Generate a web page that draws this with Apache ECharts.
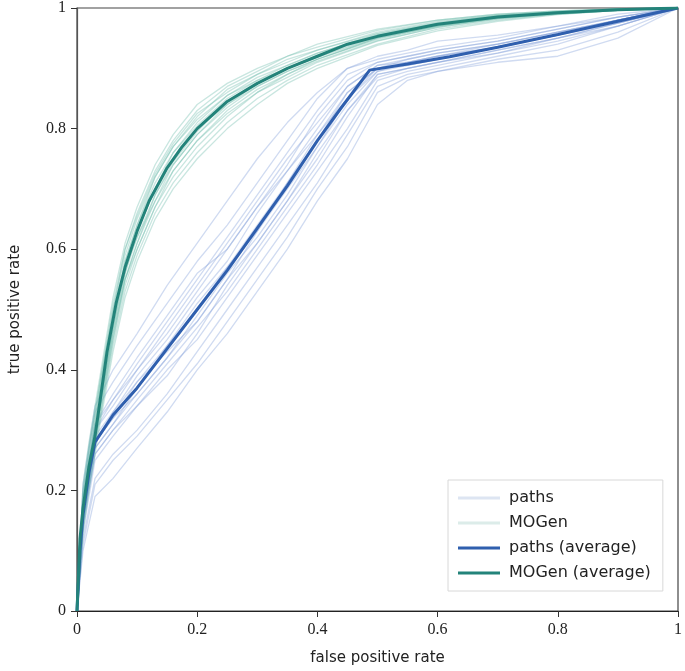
<!DOCTYPE html>
<html>
<head>
<meta charset="utf-8">
<script src="https://cdn.jsdelivr.net/npm/echarts@6/dist/echarts.min.js"></script>
<style>html,body{margin:0;padding:0;background:#fff}#c{width:685px;height:671px}</style>
</head>
<body>
<div id="c"></div>
<script>
// x-axis ticks / y-axis ticks
var xTicks = [0, 0.2, 0.4, 0.6, 0.8, 1];
var yTicks = [0, 0.2, 0.4, 0.6, 0.8, 1];

// Average curves
var pathsAvgX = [0,0.005,0.01,0.02,0.03,0.06,0.1,0.15,0.2,0.25,0.3,0.35,0.4,0.44,0.487,0.55,0.62,0.7,0.8,0.9,1];
var pathsAvgY = [0,0.10,0.16,0.23,0.28,0.325,0.37,0.435,0.50,0.565,0.635,0.705,0.78,0.835,0.897,0.907,0.919,0.935,0.956,0.978,1];

var mogenAvgX = [0,0.005,0.01,0.02,0.03,0.04,0.05,0.065,0.08,0.09,0.1,0.12,0.15,0.175,0.2,0.25,0.3,0.35,0.4,0.45,0.5,0.6,0.7,0.8,0.9,1];
var mogenAvgY = [0,0.12,0.17,0.24,0.29,0.36,0.43,0.51,0.57,0.60,0.63,0.68,0.735,0.77,0.80,0.845,0.875,0.90,0.92,0.94,0.953,0.973,0.985,0.992,0.997,1];

// Individual runs: paths
var pathsRunX = [0,0.01,0.03,0.06,0.1,0.15,0.2,0.25,0.3,0.35,0.4,0.45,0.5,0.55,0.6,0.7,0.8,0.9,1];
var pathsRun1  = [0,0.14,0.26,0.30,0.35,0.41,0.47,0.53,0.60,0.67,0.74,0.82,0.89,0.90,0.91,0.93,0.95,0.975,1];
var pathsRun2  = [0,0.18,0.30,0.35,0.41,0.48,0.55,0.62,0.69,0.76,0.83,0.89,0.91,0.92,0.93,0.945,0.965,0.985,1];
var pathsRun3  = [0,0.12,0.22,0.26,0.30,0.36,0.43,0.50,0.57,0.64,0.71,0.79,0.87,0.89,0.90,0.92,0.94,0.97,1];
var pathsRun4  = [0,0.17,0.29,0.33,0.39,0.45,0.52,0.58,0.66,0.73,0.80,0.87,0.905,0.915,0.925,0.94,0.96,0.98,1];
var pathsRun5  = [0,0.15,0.27,0.31,0.36,0.42,0.49,0.56,0.62,0.69,0.77,0.84,0.895,0.905,0.915,0.935,0.955,0.98,1];
var pathsRun6  = [0,0.20,0.33,0.38,0.44,0.51,0.58,0.64,0.71,0.78,0.85,0.90,0.915,0.925,0.935,0.95,0.97,0.985,1];
var pathsRun7  = [0,0.10,0.19,0.22,0.27,0.33,0.40,0.46,0.53,0.60,0.68,0.75,0.84,0.88,0.895,0.91,0.92,0.95,1];
var pathsRun8  = [0,0.16,0.28,0.32,0.38,0.44,0.50,0.57,0.64,0.71,0.78,0.86,0.90,0.91,0.92,0.94,0.96,0.98,1];
var pathsRun9  = [0,0.13,0.25,0.29,0.34,0.39,0.46,0.54,0.61,0.68,0.76,0.83,0.885,0.90,0.91,0.93,0.95,0.975,1];
var pathsRun10 = [0,0.19,0.31,0.36,0.42,0.49,0.56,0.60,0.67,0.74,0.82,0.88,0.91,0.92,0.93,0.945,0.965,0.985,1];
var pathsRun11 = [0,0.15,0.26,0.30,0.34,0.40,0.45,0.52,0.59,0.66,0.73,0.80,0.88,0.895,0.905,0.925,0.945,0.97,1];
var pathsRun12 = [0,0.17,0.30,0.34,0.40,0.46,0.53,0.60,0.67,0.73,0.79,0.85,0.90,0.915,0.925,0.94,0.96,0.98,1];
var pathsRun13 = [0,0.14,0.27,0.31,0.37,0.44,0.51,0.57,0.63,0.70,0.77,0.85,0.895,0.91,0.92,0.935,0.955,0.98,1];
var pathsRun14 = [0,0.16,0.28,0.33,0.38,0.43,0.48,0.55,0.63,0.71,0.79,0.86,0.90,0.905,0.915,0.935,0.955,0.975,1];
var pathsRun15 = [0,0.21,0.34,0.40,0.46,0.54,0.61,0.68,0.75,0.81,0.86,0.90,0.92,0.93,0.945,0.955,0.97,0.99,1];
var pathsRun16 = [0,0.11,0.21,0.25,0.29,0.35,0.41,0.48,0.55,0.62,0.70,0.77,0.86,0.885,0.895,0.915,0.93,0.96,1];
var pathsRun17 = [0,0.15,0.28,0.32,0.36,0.42,0.48,0.55,0.61,0.68,0.75,0.83,0.89,0.90,0.91,0.925,0.95,0.97,1];
var pathsRun18 = [0,0.18,0.31,0.35,0.40,0.47,0.54,0.61,0.68,0.75,0.81,0.87,0.905,0.91,0.92,0.935,0.955,0.98,1];
var pathsRuns = [pathsRun1,pathsRun2,pathsRun3,pathsRun4,pathsRun5,pathsRun6,pathsRun7,pathsRun8,pathsRun9,
                 pathsRun10,pathsRun11,pathsRun12,pathsRun13,pathsRun14,pathsRun15,pathsRun16,pathsRun17,pathsRun18];

// Individual runs: MOGen
var mogenRunX = [0,0.01,0.02,0.04,0.06,0.08,0.1,0.13,0.16,0.2,0.25,0.3,0.35,0.4,0.5,0.6,0.7,0.8,0.9,1];
var mogenRun1  = [0,0.15,0.22,0.34,0.45,0.54,0.60,0.67,0.72,0.77,0.82,0.86,0.885,0.91,0.945,0.968,0.982,0.99,0.996,1];
var mogenRun2  = [0,0.19,0.26,0.38,0.50,0.59,0.65,0.72,0.77,0.82,0.865,0.89,0.915,0.93,0.96,0.978,0.988,0.994,0.998,1];
var mogenRun3  = [0,0.16,0.23,0.35,0.47,0.56,0.62,0.69,0.74,0.79,0.835,0.87,0.895,0.915,0.95,0.97,0.984,0.992,0.997,1];
var mogenRun4  = [0,0.18,0.25,0.37,0.49,0.58,0.64,0.71,0.76,0.81,0.855,0.885,0.905,0.925,0.957,0.975,0.987,0.993,0.998,1];
var mogenRun5  = [0,0.14,0.21,0.33,0.44,0.53,0.59,0.66,0.71,0.76,0.81,0.85,0.88,0.905,0.94,0.965,0.98,0.99,0.996,1];
var mogenRun6  = [0,0.20,0.27,0.39,0.51,0.60,0.66,0.73,0.78,0.83,0.87,0.895,0.92,0.935,0.963,0.98,0.99,0.995,0.998,1];
var mogenRun7  = [0,0.17,0.24,0.36,0.47,0.56,0.63,0.70,0.75,0.80,0.84,0.875,0.90,0.92,0.952,0.972,0.985,0.992,0.997,1];
var mogenRun8  = [0,0.16,0.24,0.37,0.48,0.57,0.62,0.68,0.73,0.78,0.83,0.865,0.89,0.915,0.948,0.97,0.983,0.991,0.997,1];
var mogenRun9  = [0,0.18,0.25,0.35,0.47,0.58,0.64,0.72,0.77,0.815,0.855,0.88,0.905,0.925,0.955,0.974,0.986,0.993,0.998,1];
var mogenRun10 = [0,0.15,0.22,0.35,0.46,0.55,0.61,0.68,0.74,0.79,0.84,0.87,0.895,0.915,0.95,0.97,0.984,0.992,0.997,1];
var mogenRun11 = [0,0.21,0.28,0.40,0.52,0.61,0.67,0.74,0.79,0.84,0.875,0.90,0.92,0.94,0.965,0.98,0.99,0.995,0.999,1];
var mogenRun12 = [0,0.13,0.20,0.32,0.43,0.52,0.58,0.65,0.70,0.75,0.80,0.84,0.875,0.90,0.938,0.962,0.978,0.989,0.996,1];
var mogenRun13 = [0,0.17,0.25,0.38,0.49,0.57,0.63,0.70,0.76,0.805,0.85,0.88,0.90,0.922,0.955,0.972,0.985,0.993,0.997,1];
var mogenRun14 = [0,0.16,0.23,0.34,0.46,0.55,0.61,0.69,0.745,0.795,0.845,0.875,0.90,0.918,0.951,0.971,0.984,0.992,0.997,1];
var mogenRun15 = [0,0.19,0.27,0.39,0.50,0.60,0.655,0.725,0.775,0.825,0.86,0.89,0.91,0.93,0.958,0.976,0.988,0.994,0.998,1];
var mogenRun16 = [0,0.14,0.22,0.33,0.45,0.55,0.60,0.67,0.73,0.78,0.825,0.86,0.89,0.912,0.946,0.968,0.982,0.991,0.996,1];
var mogenRuns = [mogenRun1,mogenRun2,mogenRun3,mogenRun4,mogenRun5,mogenRun6,mogenRun7,mogenRun8,
                 mogenRun9,mogenRun10,mogenRun11,mogenRun12,mogenRun13,mogenRun14,mogenRun15,mogenRun16];

function zip(xs, ys){ return xs.map(function(x,i){ return [x, ys[i]]; }); }

var thinBlue = 'rgba(125,155,215,0.36)';
var thinTeal = 'rgba(105,185,170,0.36)';
var avgBlue = '#2f5fae';
var avgTeal = '#23837a';

var series = [];
pathsRuns.forEach(function(r){
  series.push({name:'paths', type:'line', data: zip(pathsRunX, r), symbol:'none', silent:true,
    lineStyle:{color:thinBlue, width:1.3}, itemStyle:{color:thinBlue}, z:1});
});
mogenRuns.forEach(function(r){
  series.push({name:'MOGen', type:'line', data: zip(mogenRunX, r), symbol:'none', silent:true,
    lineStyle:{color:thinTeal, width:1.3}, itemStyle:{color:thinTeal}, z:2});
});
series.push({name:'paths (average)', type:'line', data: zip(pathsAvgX, pathsAvgY), symbol:'none',
  lineStyle:{color:avgBlue, width:3}, itemStyle:{color:avgBlue}, z:5});
series.push({name:'MOGen (average)', type:'line', data: zip(mogenAvgX, mogenAvgY), symbol:'none',
  lineStyle:{color:avgTeal, width:3}, itemStyle:{color:avgTeal}, z:6});

var chart = echarts.init(document.getElementById('c'));
chart.setOption({
  animation:false,
  backgroundColor:'#fff',
  grid:{left:76, right:5, top:8, bottom:60, containLabel:false, show:true, borderColor:'#444', borderWidth:1.2, backgroundColor:'transparent'},
  legend:{
    data:[
      {name:'paths', icon:'rect', itemStyle:{color:'#dde5f2'}},
      {name:'MOGen', icon:'rect', itemStyle:{color:'#dcece9'}},
      {name:'paths (average)', icon:'rect', itemStyle:{color:avgBlue}},
      {name:'MOGen (average)', icon:'rect', itemStyle:{color:avgTeal}}
    ],
    orient:'vertical', left:448, top:480,
    padding:[9,12,9,10], itemGap:7, itemWidth:42, itemHeight:3,
    borderColor:'#d8d8d8', borderWidth:1, borderRadius:0, backgroundColor:'#fff',
    textStyle:{fontFamily:'DejaVu Sans', fontSize:16, color:'#222', lineHeight:18, padding:[0,0,0,4]},
    selectedMode:false
  },
  xAxis:{
    type:'value', min:0, max:1, interval:0.2,
    name:'false positive rate', nameLocation:'middle', nameGap:40,
    nameTextStyle:{fontFamily:'DejaVu Sans', fontSize:15, color:'#222'},
    axisLine:{show:true, lineStyle:{color:'#222', width:1.2}},
    axisTick:{show:true, length:6, inside:false, lineStyle:{color:'#333'}},
    axisLabel:{fontFamily:'Liberation Serif', fontSize:16, color:'#222', margin:11,
      formatter:function(v){ return xTicks.indexOf(Math.round(v*10)/10) >= 0 ? String(Math.round(v*10)/10) : ''; }},
    splitLine:{show:false}
  },
  yAxis:{
    type:'value', min:0, max:1, interval:0.2,
    name:'true positive rate', nameLocation:'middle', nameGap:54,
    nameTextStyle:{fontFamily:'DejaVu Sans', fontSize:15, color:'#222'},
    axisLine:{show:true, lineStyle:{color:'#555', width:1.2}},
    axisTick:{show:true, length:6, inside:false, lineStyle:{color:'#333'}},
    axisLabel:{fontFamily:'Liberation Serif', fontSize:16, color:'#222', margin:11,
      formatter:function(v){ return yTicks.indexOf(Math.round(v*10)/10) >= 0 ? String(Math.round(v*10)/10) : ''; }},
    splitLine:{show:false}
  },
  series: series
});
</script>
</body>
</html>
